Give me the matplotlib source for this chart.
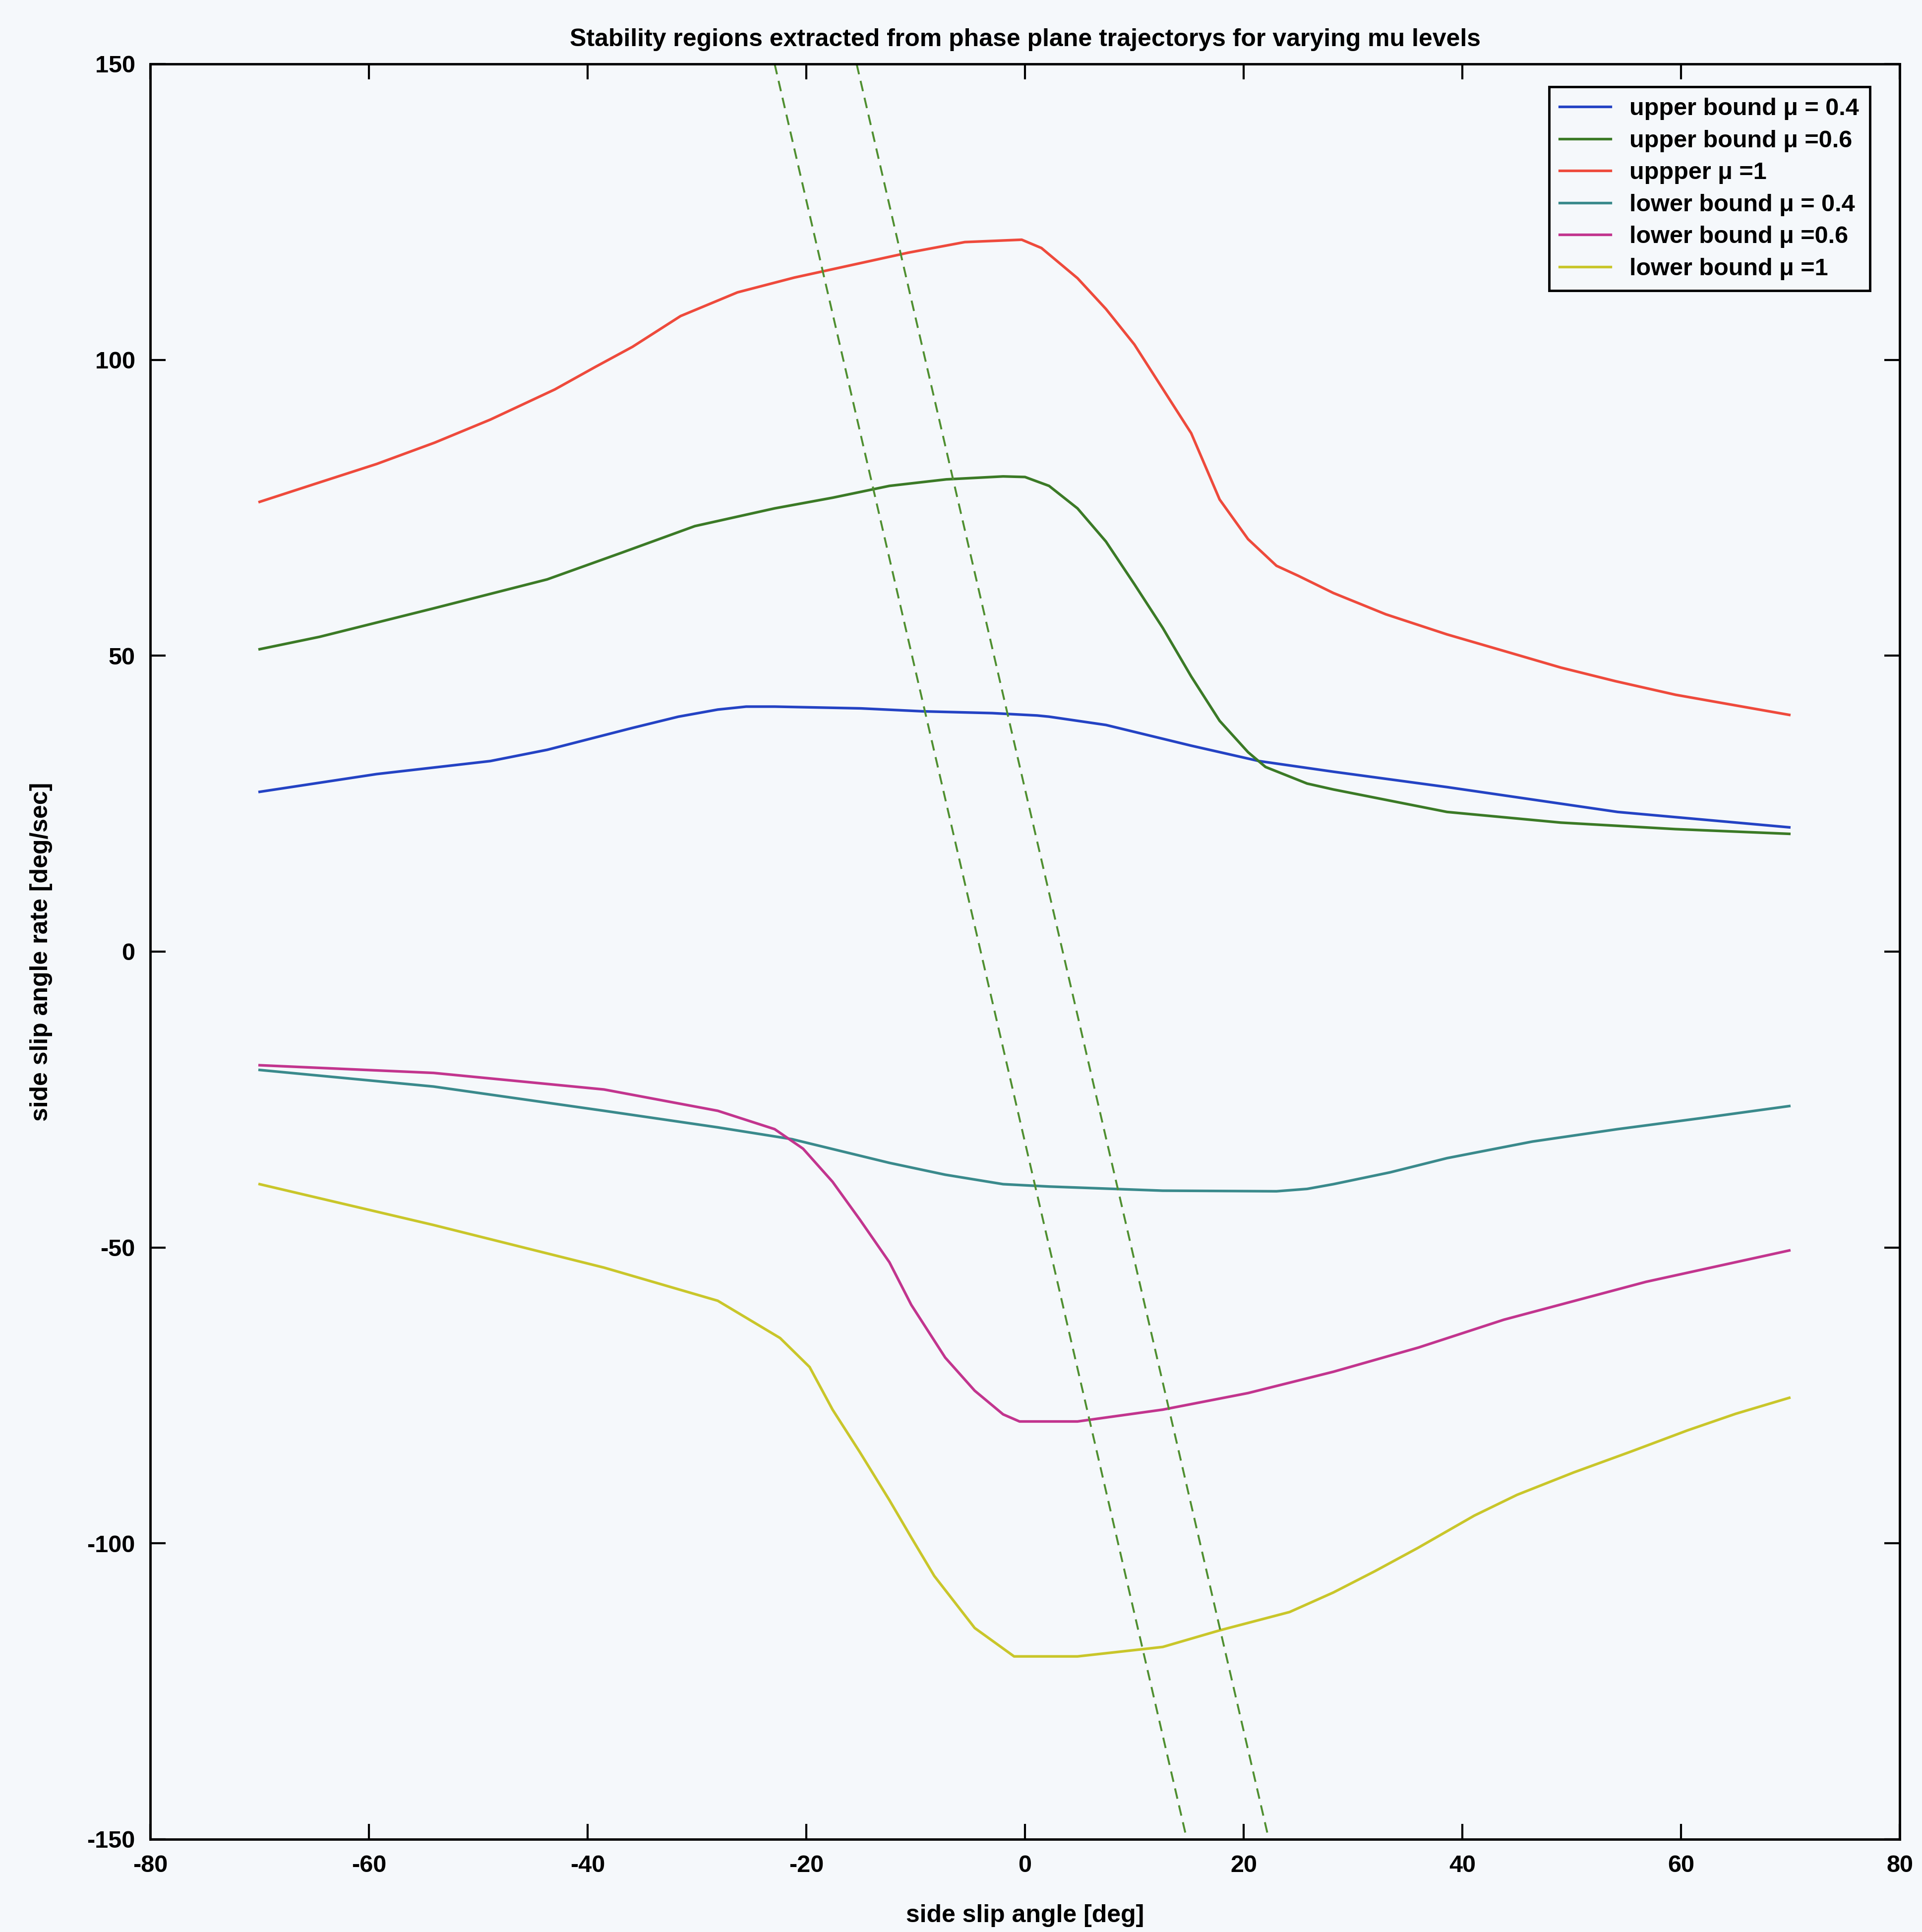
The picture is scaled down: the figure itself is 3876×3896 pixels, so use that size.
import matplotlib
matplotlib.use("Agg")
import matplotlib.pyplot as plt

plt.rcParams['font.family'] = ['Liberation Sans', 'DejaVu Sans']
plt.rcParams['axes.unicode_minus'] = False

# upper bounds
x_up04 = [-70, -59.3, -48.9, -43.7, -35.9, -31.7, -28.1, -25.5, -22.9, -15, -9.3, -3, 1.1, 2.2, 7.4, 15.2, 21.4,
          28.2, 38.6, 54.2, 69.9]
y_up04 = [27, 30, 32.2, 34.1, 37.8, 39.7, 40.9, 41.4, 41.4, 41.1, 40.6, 40.3, 39.9, 39.7, 38.3, 34.8, 32.2,
          30.4, 27.8, 23.6, 21]

x_up06 = [-70, -64.5, -54.1, -43.7, -36.9, -30.2, -22.9, -17.6, -12.4, -7.2, -2, 0, 2.2, 4.8, 7.4, 10, 12.6,
          15.2, 17.8, 20.4, 22, 25.8, 28.2, 38.6, 49, 59.5, 69.9]
y_up06 = [51.1, 53.2, 58, 62.9, 67.4, 71.9, 74.9, 76.7, 78.7, 79.8, 80.3, 80.2, 78.7, 74.9, 69.3, 62.1, 54.7,
          46.5, 39, 33.7, 31.2, 28.4, 27.4, 23.6, 21.8, 20.7, 19.9]

x_up1 = [-70, -65, -59.3, -54, -48.9, -43, -39.3, -35.9, -31.5, -26.3, -21.1, -15.9, -10.7, -5.5, -0.3, 1.5, 4.8,
         7.4, 10, 12.6, 15.2, 17.8, 20.4, 23, 25, 28.2, 33, 38.6, 44, 49, 54, 59.5, 65, 69.9]
y_up1 = [76, 79, 82.4, 86, 89.9, 95, 98.8, 102.2, 107.4, 111.4, 113.9, 116, 118.1, 119.9, 120.3, 118.9, 113.8,
         108.6, 102.6, 95.1, 87.6, 76.4, 69.7, 65.2, 63.5, 60.6, 57, 53.6, 50.7, 48, 45.7, 43.4, 41.6, 40]

# lower bounds
x_lo04 = [-70, -54.1, -38.5, -28.1, -21.3, -12.4, -7.3, -2, 2.2, 12.6, 23, 25.8, 28.2, 33.4, 38.6, 46.4, 54.2,
          62, 69.9]
y_lo04 = [-20, -22.8, -26.9, -29.7, -31.7, -35.7, -37.7, -39.3, -39.7, -40.4, -40.5, -40.1, -39.3, -37.3, -34.9,
          -32.1, -30, -28.1, -26.1]

x_lo06 = [-70, -54.1, -38.5, -28.1, -22.9, -20.3, -17.6, -15.1, -12.4, -10.4, -7.3, -4.6, -2, -0.5, 4.8, 12.6,
          20.4, 28.2, 36, 43.8, 56.8, 69.9]
y_lo06 = [-19.2, -20.5, -23.3, -26.9, -30, -33.3, -38.9, -45.3, -52.5, -59.7, -68.6, -74.2, -78.2, -79.4, -79.4,
          -77.4, -74.6, -71, -66.9, -62.2, -55.8, -50.5]

x_lo1 = [-70, -54.1, -38.5, -28.1, -22.4, -19.7, -17.6, -15.1, -12.4, -10.4, -8.3, -4.6, -1, 4.8, 12.6, 17.8,
         24.2, 28.2, 32, 35.9, 41.1, 45, 50.2, 55.4, 60.6, 65, 69.9]
y_lo1 = [-39.3, -46.2, -53.4, -59, -65.3, -70.2, -77.4, -84.6, -92.7, -99, -105.5, -114.3, -119.1, -119.1, -117.5,
         -114.7, -111.6, -108.3, -104.7, -100.8, -95.3, -91.8, -88, -84.5, -80.9, -78.1, -75.4]

# dashed stability lines (end points)
dash1_x = [-22.9, 14.8]
dash2_x = [-15.4, 22.3]
dash_y = [150, -150]

bg = '#f5f8fb'
fig = plt.figure(figsize=(38.76, 38.96), dpi=100, facecolor=bg)
ax = fig.add_axes([0.0782, 0.048, 0.9102, 0.9189])
ax.set_facecolor(bg)

lw = 3.8
ax.plot(x_up04, y_up04, color='#2443c4', lw=lw, label='upper bound \u03bc = 0.4')
ax.plot(x_up06, y_up06, color='#3b7a26', lw=lw, label='upper bound \u03bc =0.6')
ax.plot(x_up1, y_up1, color='#ee4a3c', lw=lw, label='uppper \u03bc =1')
ax.plot(x_lo04, y_lo04, color='#3a8a8c', lw=lw, label='lower bound \u03bc = 0.4')
ax.plot(x_lo06, y_lo06, color='#c2358e', lw=lw, label='lower bound \u03bc =0.6')
ax.plot(x_lo1, y_lo1, color='#c9c62a', lw=lw, label='lower bound \u03bc =1')

ax.plot(dash1_x, dash_y, color='#4f8f30', lw=2.8, dashes=(5.5, 3.5))
ax.plot(dash2_x, dash_y, color='#4f8f30', lw=2.8, dashes=(5.5, 3.5))

ax.set_xlim(-80, 80)
ax.set_ylim(-150, 150)
ax.set_xticks(range(-80, 81, 20))
ax.set_yticks(range(-150, 151, 50))

ax.tick_params(direction='in', length=22, width=3, top=True, right=True,
               labelsize=35, pad=22)
for s in ax.spines.values():
    s.set_linewidth(3.5)
for lab in ax.get_xticklabels() + ax.get_yticklabels():
    lab.set_fontweight('bold')

ax.set_title('Stability regions extracted from phase plane trajectorys for varying mu levels',
             fontsize=36, fontweight='bold', pad=26)
ax.set_xlabel('side slip angle [deg]', fontsize=36, fontweight='bold', labelpad=40)
ax.set_ylabel('side slip angle rate [deg/sec]', fontsize=36, fontweight='bold', labelpad=50)

leg = ax.legend(loc='upper right', bbox_to_anchor=(0.983, 0.987),
                prop={'weight': 'bold', 'size': 35}, frameon=True, fancybox=False,
                edgecolor='black', handlelength=2.1, handletextpad=0.8,
                labelspacing=0.4, borderpad=0.45, borderaxespad=0)
leg.get_frame().set_linewidth(3.5)
leg.get_frame().set_facecolor(bg)
leg.get_frame().set_alpha(1)

plt.savefig('out.png', dpi=100, facecolor=bg)
plt.close()
